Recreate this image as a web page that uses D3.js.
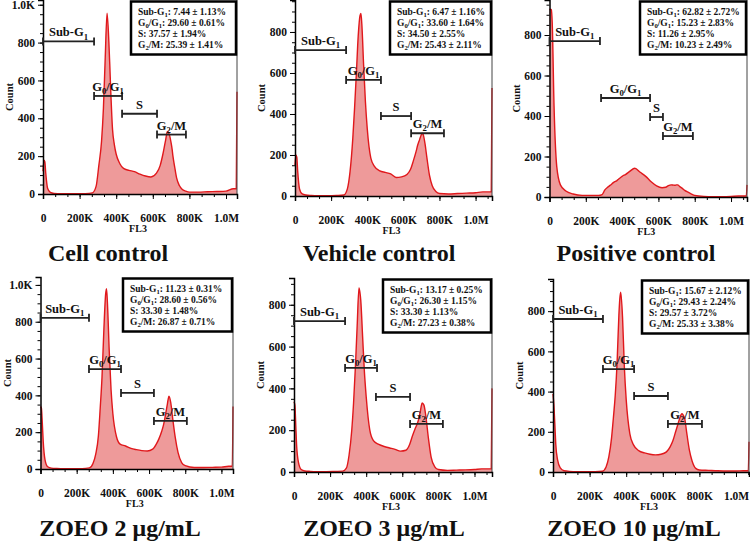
<!DOCTYPE html>
<meta charset="utf-8">
<script src="https://d3js.org/d3.v7.min.js"></script>
<style>
  body { margin: 0; background: #fff; }
  text { font-family: "Liberation Serif", "Times New Roman", serif; font-weight: bold; fill: #111; }
</style>
<div id="chart"></div>
<script>

// FL3 channel (thousands) shared by the six histograms
var fl3K = [0, 5, 10, 15, 25, 40, 60, 90, 130, 180, 230, 270, 290, 305, 320, 330, 340, 350, 360, 365,
            370, 380, 390, 400, 420, 440, 470, 500, 530, 560, 590, 620, 640, 655, 670, 680, 690, 700, 705, 710,
            720, 730, 745, 760, 780, 800, 850, 900, 950, 1000, 1040];

// counts
var cellControl = [120, 178, 170, 110, 30, 8, 3, 2, 1, 1, 2, 6, 40, 150, 280, 450, 720, 955, 800, 680,
                   550, 340, 260, 210, 160, 135, 125, 118, 105, 95, 90, 110, 150, 210, 285, 330, 315, 270, 240, 200,
                   140, 85, 45, 25, 15, 10, 10, 12, 13, 15, 28];
var vehicleControl = [150, 200, 190, 120, 35, 10, 5, 3, 2, 2, 3, 5, 35, 120, 280, 430, 600, 780, 880, 890,
                      840, 640, 460, 330, 185, 145, 122, 115, 108, 90, 93, 105, 130, 170, 215, 250, 275, 300, 306, 300,
                      255, 190, 100, 50, 22, 12, 10, 12, 14, 16, 20];
var positiveControl = [925, 928, 925, 860, 450, 150, 60, 30, 15, 8, 8, 8, 12, 35, 48, 55, 62, 70, 76, 78,
                       80, 88, 95, 102, 112, 125, 142, 122, 102, 75, 55, 46, 48, 56, 60, 59, 58, 60, 60, 58,
                       50, 44, 33, 25, 16, 8, 3, 2, 2, 3, 5];
var zoeo2 = [339, 330, 250, 150, 50, 12, 5, 3, 2, 2, 2, 6, 30, 80, 180, 330, 500, 750, 950, 980,
             900, 640, 430, 300, 175, 135, 125, 112, 105, 100, 98, 108, 135, 165, 205, 240, 290, 345, 375, 395,
             360, 280, 170, 90, 35, 18, 8, 8, 9, 10, 15];
var zoeo3 = [336, 320, 220, 120, 45, 12, 5, 3, 2, 2, 3, 4, 18, 80, 200, 330, 500, 700, 880, 860,
             820, 650, 480, 360, 200, 150, 132, 122, 115, 108, 100, 104, 130, 170, 205, 225, 250, 290, 315, 330,
             320, 270, 160, 70, 25, 12, 8, 9, 10, 12, 15];
var zoeo10 = [388, 330, 240, 140, 60, 20, 6, 3, 2, 2, 2, 4, 25, 75, 170, 270, 380, 540, 780, 860,
              894, 770, 520, 360, 190, 135, 105, 95, 88, 85, 88, 100, 125, 155, 200, 230, 260, 285, 290, 285,
              265, 200, 110, 55, 18, 10, 8, 6, 5, 5, 6];
// count of the last channel (spike at the right edge)
var rightSpike = [540, 527, 60, 340, 400, 150];

var titles = ["Cell control", "Vehicle control", "Positive control",
              "ZOEO 2 μg/mL", "ZOEO 3 μg/mL", "ZOEO 10 μg/mL"];

// gates: "_" marks a subscript
var phases = ["Sub-G_1", "G_0/G_1", "S", "G_2/M"];
var gateFromK = [[0, 279, 432, 623], [0, 283, 476, 643], [0, 284, 554, 625],
                 [0, 268, 445, 627], [0, 283, 454, 643], [0, 273, 443, 628]];
var gateToK   = [[279, 432, 623, 781], [283, 476, 643, 825], [278, 554, 625, 790],
                 [268, 445, 627, 809], [283, 460, 643, 825], [273, 443, 628, 814]];
var gateCount = [[806, 518, 424, 314], [712, 566, 390, 306], [770, 489, 395, 301],
                 [821, 543, 413, 261], [722, 498, 359, 230], [761, 512, 378, 239]];

// percentages in the boxes
var pctMean = [[7.44, 29.60, 37.57, 25.39], [6.47, 33.60, 34.50, 25.43], [62.82, 15.23, 11.26, 10.23],
               [11.23, 28.60, 33.30, 26.87], [13.17, 26.30, 33.30, 27.23], [15.67, 29.43, 29.57, 25.33]];
var pctSD   = [[1.13, 0.61, 1.94, 1.41], [1.16, 1.64, 2.55, 2.11], [2.72, 2.83, 2.95, 2.49],
               [0.31, 0.56, 1.48, 0.71], [0.25, 1.15, 1.13, 0.38], [2.12, 2.24, 3.72, 3.38]];

var xTicksK = [0, 200, 400, 600, 800, 1000];
var xTickLabels = ["0", "200K", "400K", "600K", "800K", "1.0M"];
var yTicks = [0, 200, 400, 600, 800, 1000];
var yTickLabels = ["0", "200", "400", "600", "800", "1.0K"];

var series = [cellControl, vehicleControl, positiveControl, zoeo2, zoeo3, zoeo10];

// panel frames in pixels
var layout = [
  {left: 43,    right: 237, bottom: 194, top: 0,   xMax: 1060, yMax: 1025, boxW: 106, titleX: 108, titleY: 261},
  {left: 295,   right: 492, bottom: 196, top: 0,   xMax: 1091, yMax: 956,  boxW: 102, titleX: 379, titleY: 261},
  {left: 549.5, right: 747, bottom: 197, top: 0,   xMax: 1088, yMax: 973,  boxW: 107, titleX: 636, titleY: 261},
  {left: 40.5,  right: 233, bottom: 469, top: 277, xMax: 1064, yMax: 1043, boxW: 110, titleX: 120, titleY: 536},
  {left: 294,   right: 492, bottom: 472, top: 278, xMax: 1097, yMax: 928,  boxW: 109, titleX: 384, titleY: 536},
  {left: 553,   right: 749, bottom: 472, top: 279, xMax: 1071, yMax: 960,  boxW: 107, titleX: 634, titleY: 536}
];

var svg = d3.select("#chart").append("svg")
    .attr("width", 750)
    .attr("height", 545);

// write "Sub-G_1" style strings with subscripts
function richText(sel, str, size) {
  var parts = str.split(/(_.)/).filter(function (p) { return p !== ""; });
  var shift = 0;
  parts.forEach(function (p) {
    if (p[0] === "_") {
      sel.append("tspan")
        .attr("dy", (0.25 * size - shift).toFixed(2))
        .attr("font-size", (size * 0.7).toFixed(2))
        .text(p[1]);
      shift = 0.25 * size;
    } else {
      sel.append("tspan")
        .attr("dy", (-shift).toFixed(2))
        .attr("font-size", size)
        .text(p);
      shift = 0;
    }
  });
}

layout.forEach(function (L, i) {
  var data = series[i];

  var x = d3.scaleLinear().domain([0, L.xMax]).range([L.left, L.right]);
  var y = d3.scaleLinear().domain([0, L.yMax]).range([L.bottom, L.top]);

  var g = svg.append("g");

  var pts = fl3K.map(function (k, j) { return [k, data[j]]; });
  pts.push([L.xMax - 4, data[data.length - 1]]);
  pts.push([L.xMax, rightSpike[i]]);

  g.append("path")
    .datum(pts)
    .attr("fill", "#ee9a9a")
    .attr("d", d3.area()
      .curve(d3.curveMonotoneX)
      .x(function (d) { return x(d[0]); })
      .y0(y(0))
      .y1(function (d) { return y(d[1]); }));

  g.append("path")
    .datum(pts)
    .attr("fill", "none")
    .attr("stroke", "#e0181c")
    .attr("stroke-width", 1.4)
    .attr("d", d3.line()
      .curve(d3.curveMonotoneX)
      .x(function (d) { return x(d[0]); })
      .y(function (d) { return y(d[1]); }));

  // right frame line
  g.append("line")
    .attr("x1", L.right).attr("x2", L.right)
    .attr("y1", L.top).attr("y2", L.bottom)
    .attr("stroke", "#444").attr("stroke-width", 1);

  // minor ticks
  var yMinor = d3.range(0, L.yMax, 50);
  var xMinor = d3.range(0, L.xMax, 200 / 3);
  g.append("g")
    .attr("transform", "translate(" + L.left + ",0)")
    .call(d3.axisLeft(y).tickValues(yMinor).tickSize(3).tickFormat(""))
    .call(function (a) { a.select(".domain").remove(); a.selectAll("text").remove(); });
  g.append("g")
    .attr("transform", "translate(0," + L.bottom + ")")
    .call(d3.axisBottom(x).tickValues(xMinor).tickSize(3).tickFormat(""))
    .call(function (a) { a.select(".domain").remove(); a.selectAll("text").remove(); });

  // major axes
  var yt = yTicks.filter(function (v) { return v <= L.yMax; });
  g.append("g")
    .attr("transform", "translate(" + L.left + ",0)")
    .call(d3.axisLeft(y).tickValues(yt).tickSize(5).tickPadding(3)
      .tickFormat(function (d) { return yTickLabels[yTicks.indexOf(d)]; }))
    .call(function (a) {
      a.select(".domain").attr("stroke-width", 1.5);
      a.selectAll("text").attr("font-size", 11.5).attr("font-family", null);
    });
  g.append("g")
    .attr("transform", "translate(0," + L.bottom + ")")
    .call(d3.axisBottom(x).tickValues(xTicksK).tickSize(5).tickPadding(15)
      .tickFormat(function (d, j) { return xTickLabels[j]; }))
    .call(function (a) {
      a.select(".domain").attr("stroke-width", 1.5);
      a.selectAll("text").attr("font-size", 11.5).attr("font-family", null);
    });

  // axis titles
  g.append("text")
    .attr("transform", "translate(" + (L.left - 30) + "," + ((L.top + L.bottom) / 2) + ") rotate(-90)")
    .attr("text-anchor", "middle")
    .attr("font-size", 10.5)
    .text("Count");
  g.append("text")
    .attr("x", (L.left + L.right) / 2 - 2)
    .attr("y", L.bottom + 38)
    .attr("text-anchor", "middle")
    .attr("font-size", 10)
    .text("FL3");

  // gates
  phases.forEach(function (ph, p) {
    var xa = x(gateFromK[i][p]), xb = x(gateToK[i][p]), yy = y(gateCount[i][p]);
    g.append("line").attr("x1", xa).attr("x2", xb).attr("y1", yy).attr("y2", yy)
      .attr("stroke", "#222").attr("stroke-width", 1.8);
    [xa, xb].forEach(function (xe) {
      g.append("line").attr("x1", xe).attr("x2", xe).attr("y1", yy - 4).attr("y2", yy + 4)
        .attr("stroke", "#222").attr("stroke-width", 1.8);
    });
    var t = g.append("text")
      .attr("x", (xa + xb) / 2)
      .attr("y", yy - 5)
      .attr("text-anchor", "middle")
      .attr("font-size", 12.5);
    richText(t, ph, 12.5);
  });

  // stats box
  var bx = L.right - L.boxW, by = L.top + 1.5;
  g.append("rect")
    .attr("x", bx).attr("y", by)
    .attr("width", L.boxW - 1).attr("height", 53)
    .attr("fill", "#fff").attr("stroke", "#000").attr("stroke-width", 2.5);
  phases.forEach(function (ph, p) {
    var t = g.append("text")
      .attr("x", bx + 7)
      .attr("y", by + 13 + p * 11)
      .attr("font-size", 9.5);
    richText(t, ph + ": " + pctMean[i][p].toFixed(2) + " \u00b1 " + pctSD[i][p].toFixed(2) + "%", 9.5);
  });

  // panel title
  svg.append("text")
    .attr("x", L.titleX)
    .attr("y", L.titleY)
    .attr("text-anchor", "middle")
    .attr("font-size", 24)
    .text(titles[i]);
});

</script>
